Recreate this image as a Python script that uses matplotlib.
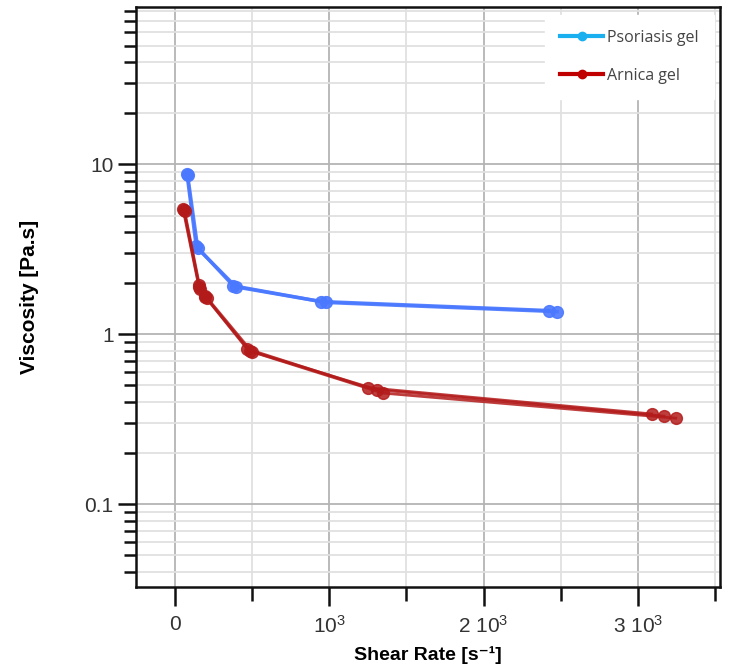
import matplotlib
matplotlib.use("Agg")
import matplotlib.pyplot as plt
from matplotlib.lines import Line2D
from matplotlib.ticker import FixedLocator, NullFormatter, LogLocator

plt.rcParams['font.family'] = ['Liberation Sans', 'DejaVu Sans']
plt.rcParams['mathtext.fontset'] = 'custom'
plt.rcParams['mathtext.rm'] = 'Liberation Sans'
plt.rcParams['mathtext.default'] = 'regular'

# Psoriasis gel, two runs
pso_x1 = [80, 140, 380, 945, 2423]
pso_y1 = [8.8, 3.3, 1.93, 1.56, 1.38]
pso_x2 = [84, 150, 398, 980, 2475]
pso_y2 = [8.7, 3.2, 1.90, 1.54, 1.36]

# Arnica gel, three runs
arn_x1 = [55, 155, 195, 470, 1252, 3087]
arn_y1 = [5.45, 1.95, 1.68, 0.82, 0.485, 0.340]
arn_x2 = [60, 160, 200, 485, 1310, 3167]
arn_y2 = [5.4, 1.90, 1.66, 0.80, 0.472, 0.330]
arn_x3 = [65, 165, 210, 500, 1349, 3243]
arn_y3 = [5.3, 1.86, 1.64, 0.79, 0.451, 0.321]

xticks = [0, 1000, 2000, 3000]
xticklabels = ['0', '10$^3$', '2 10$^3$', '3 10$^3$']
yticks = [0.1, 1, 10]
yticklabels = ['0.1', '1', '10']

blue = '#4a78ff'
red = '#b31b1b'

fig = plt.figure(figsize=(7.31, 6.68), dpi=100)
ax = fig.add_axes([0.186, 0.121, 0.799, 0.868])

for xs, ys in [(pso_x1, pso_y1), (pso_x2, pso_y2)]:
    ax.plot(xs, ys, color=blue, lw=2.5, marker='o', ms=8.5, alpha=0.9, zorder=3)
for xs, ys in [(arn_x1, arn_y1), (arn_x2, arn_y2), (arn_x3, arn_y3)]:
    ax.plot(xs, ys, color=red, lw=2.0, marker='o', ms=8.5, alpha=0.85, zorder=3)

ax.set_yscale('log')
ax.set_xlim(-250, 3530)
ax.set_ylim(0.0325, 84)

ax.set_xticks(xticks)
ax.set_xticklabels(xticklabels)
ax.xaxis.set_minor_locator(FixedLocator([500, 1500, 2500, 3500]))
ax.set_yticks(yticks)
ax.set_yticklabels(yticklabels)
ax.yaxis.set_minor_locator(LogLocator(base=10, subs=range(2, 10)))
ax.yaxis.set_minor_formatter(NullFormatter())

ax.tick_params(axis='both', which='major', labelsize=15, labelcolor='#333333',
               width=1.8, direction='out', color='#111111')
ax.tick_params(axis='x', which='major', length=14, pad=6)
ax.tick_params(axis='x', which='minor', length=10, width=1.8, color='#111111')
ax.tick_params(axis='y', which='major', length=13, pad=3)
ax.tick_params(axis='y', which='minor', length=9, width=1.8, color='#111111')

ax.grid(True, which='major', color='#b4b4b4', lw=1.3)
ax.grid(True, which='minor', color='#e0e0e0', lw=1.3)
ax.set_axisbelow(True)

for sp in ax.spines.values():
    sp.set_linewidth(1.8)
    sp.set_color('#111111')

ax.set_xlabel('Shear Rate [s⁻¹]', fontsize=14, fontweight='bold', labelpad=7)
ax.set_ylabel('Viscosity [Pa.s]', fontsize=15, fontweight='bold', labelpad=33)

handles = [Line2D([0], [0], color='#1ab0f0', lw=3, marker='o', ms=6),
           Line2D([0], [0], color='#c00000', lw=3, marker='o', ms=6)]
leg = ax.legend(handles, ['Psoriasis gel', 'Arnica gel'], loc='upper right',
                bbox_to_anchor=(0.99, 0.987), frameon=True, fancybox=False,
                framealpha=1, edgecolor='white', facecolor='white',
                prop={'family': 'Open Sans', 'size': 11.5},
                handlelength=2.7, handletextpad=0.25, labelspacing=1.35,
                borderpad=0.95, borderaxespad=0)
for t in leg.get_texts():
    t.set_color('#444444')

fig.savefig('out.png', dpi=100)
